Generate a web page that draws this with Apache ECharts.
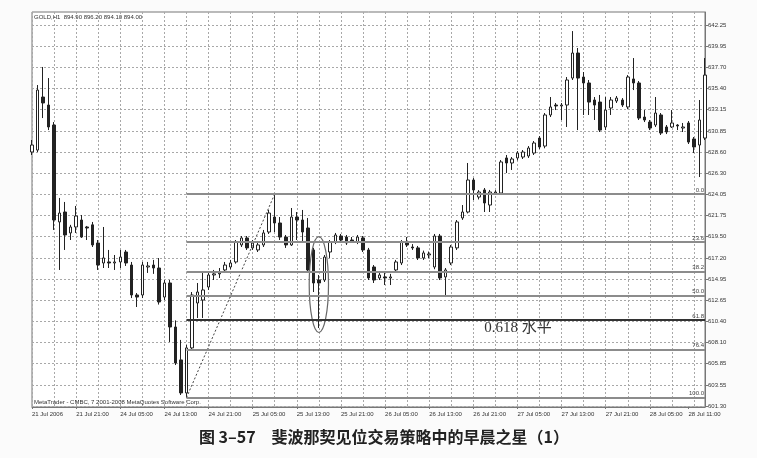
<!DOCTYPE html>
<html><head><meta charset="utf-8">
<script src="https://cdn.jsdelivr.net/npm/echarts@6/dist/echarts.min.js"></script>
<style>html,body{margin:0;padding:0;background:#fbfbfb}#c{width:757px;height:458px}</style>
</head><body><div id="c"></div>
<script>
// ---- data ----
const opens = [628.60,628.81,634.51,633.65,631.50,621.08,622.15,619.90,620.54,621.29,620.54,620.77,618.82,616.67,616.78,616.67,616.78,617.85,616.45,613.23,
613.23,616.24,616.45,616.13,613.01,614.52,609.79,606.25,602.70,607.54,612.37,612.69,614.09,615.38,615.50,615.92,616.24,616.78,618.61,619.36,
618.29,618.07,618.61,620.00,621.61,620.97,619.46,618.61,621.61,621.29,620.43,618.07,614.84,614.84,617.85,618.93,619.57,619.46,619.14,618.93,
619.36,618.07,616.24,615.06,615.17,615.06,615.92,616.67,618.93,618.39,618.29,617.21,617.53,616.24,619.57,615.17,616.67,618.29,621.51,622.15,
625.59,623.76,624.52,622.90,624.19,624.19,627.96,627.42,627.96,628.06,628.17,628.49,630.10,629.24,632.58,633.65,633.55,633.65,636.55,639.24,
636.66,636.02,634.19,633.97,631.29,633.33,634.08,634.19,633.44,636.45,636.02,632.36,631.82,631.50,632.58,631.29,631.29,631.50,631.18,631.72,
630.00,629.35,630.10];
const closes = [629.35,635.26,633.87,631.29,621.29,622.04,619.68,620.54,621.72,619.46,620.43,618.61,616.45,617.21,616.67,616.78,617.31,616.67,613.23,613.01,
616.45,616.35,616.13,612.48,614.52,609.79,605.92,602.70,607.54,613.23,613.55,613.77,615.38,615.50,615.60,616.45,616.67,618.93,619.36,618.29,
618.82,618.61,619.90,622.04,620.97,619.46,618.61,621.61,621.29,620.00,615.92,614.52,614.52,617.31,618.93,619.68,619.14,618.82,619.04,619.46,
618.07,615.06,614.84,615.38,615.06,615.17,616.78,618.93,618.61,618.29,617.21,617.75,617.64,619.57,615.06,615.92,618.39,621.08,622.15,625.59,
624.52,624.30,623.12,624.30,624.30,627.53,627.42,627.85,628.49,628.60,629.03,629.57,629.14,632.58,633.44,633.55,633.65,636.34,639.24,636.55,
636.02,633.97,633.65,630.96,633.11,634.19,634.40,633.65,636.66,636.02,632.25,632.04,631.18,632.79,630.64,630.75,631.72,631.40,631.29,629.67,
629.14,632.04,636.87];
const lows = [628.28,628.60,632.25,630.96,620.22,615.92,618.07,619.14,619.90,619.36,619.14,618.39,615.92,616.13,616.13,615.92,616.13,616.35,612.90,611.94,
612.90,615.60,615.50,612.20,612.69,608.18,605.70,602.48,602.19,607.30,610.76,610.76,613.77,614.84,615.06,615.70,616.00,616.60,618.39,618.07,
618.07,617.85,618.39,619.79,620.00,619.14,618.29,618.50,619.14,618.93,615.70,613.55,609.68,614.63,617.21,618.70,618.93,618.61,618.82,618.70,
617.85,614.84,614.52,614.84,614.30,614.30,615.60,616.45,618.39,618.07,616.99,617.00,617.20,616.00,614.84,613.01,616.45,618.07,621.30,622.00,
623.44,623.50,622.15,622.15,624.00,624.00,626.34,626.67,627.70,627.85,627.96,628.28,628.92,629.00,632.36,633.11,632.04,631.29,636.34,630.96,
632.58,632.58,632.04,630.75,630.96,632.58,633.87,633.44,633.20,635.26,632.04,631.82,630.96,631.29,630.43,630.53,631.18,630.96,630.75,629.46,
628.49,625.91,629.89];
const highs = [629.89,635.80,637.74,636.55,631.82,623.66,623.23,620.77,622.80,621.83,620.65,621.08,619.14,620.54,618.07,617.53,618.07,618.07,616.78,613.44,
616.78,616.78,617.00,617.20,614.84,614.84,610.50,608.40,607.86,613.55,614.52,615.60,615.70,615.92,616.13,616.78,617.00,619.14,619.57,619.57,
619.14,618.82,620.22,622.37,624.09,621.61,619.68,622.58,622.15,622.37,621.51,618.29,615.38,617.53,619.14,619.90,619.79,619.68,619.46,619.68,
619.57,618.29,616.45,615.60,615.60,615.50,617.00,619.14,619.46,618.70,618.50,618.00,617.90,619.79,619.79,616.13,618.61,621.29,622.90,627.42,
625.80,624.50,624.73,624.52,624.50,627.74,628.28,628.06,628.70,628.81,629.24,629.78,630.32,632.79,634.51,633.87,633.87,636.66,641.60,639.78,
637.20,636.34,634.51,634.73,634.51,634.51,634.62,634.40,636.87,638.70,636.23,633.11,632.04,634.51,632.79,631.50,633.11,631.60,631.72,631.93,
630.21,634.19,638.70];
const yTickValues = [601.30,603.55,605.85,608.10,610.40,612.65,614.95,617.20,619.50,621.75,624.05,626.30,628.60,630.85,633.15,635.40,637.70,639.95,642.25];
const xTickLabels = [[0,'21 Jul 2006'],[8,'21 Jul 21:00'],[16,'24 Jul 05:00'],[24,'24 Jul 13:00'],[32,'24 Jul 21:00'],[40,'25 Jul 05:00'],
[48,'25 Jul 13:00'],[56,'25 Jul 21:00'],[64,'26 Jul 05:00'],[72,'26 Jul 13:00'],[80,'26 Jul 21:00'],[88,'27 Jul 05:00'],[96,'27 Jul 13:00'],
[104,'27 Jul 21:00'],[112,'28 Jul 05:00'],[119,'28 Jul 11:00']];
const fibRatios = [0.0, 23.6, 38.2, 50.0, 61.8, 76.4, 100.0];
const swingLowIndex = 28;
const swingHighIndex = 44;
const starIndex = 52;          // morning star circled in the picture
const starRange = [619.5, 609.2]; // vertical span of the circle
const noteIndex = 82;          // where the "0.618 水平" note starts
const headerText = 'GOLD,H1  894.90 896.20 894.10 894.00';
const footerText = 'MetaTrader - CMBC, 7 2001-2008 MetaQuotes Software Corp.';
const captionText = '图 3–57　斐波那契见位交易策略中的早晨之星（1）';

// ---- categories (hourly bars, weekend skipped) ----
const mon = ['Jan','Feb','Mar','Apr','May','Jun','Jul','Aug','Sep','Oct','Nov','Dec'];
const categories = [];
{
  let d = new Date(2006, 6, 21, 13);
  for (let i = 0; i < opens.length; i++) {
    categories.push(d.getDate() + ' ' + mon[d.getMonth()] + ' ' + String(d.getHours()).padStart(2,'0') + ':00');
    d = new Date(d.getTime() + 3600000);
    while (d.getDay() === 6 || d.getDay() === 0) d = new Date(d.getTime() + 3600000);
  }
}
const ohlc = opens.map((o, i) => [o, closes[i], lows[i], highs[i]]);
const labelMap = {};
xTickLabels.forEach(([i, t]) => labelMap[i] = t);
const hi = highs[swingHighIndex], lo = lows[swingLowIndex];
const fibLevel = r => hi - (hi - lo) * r / 100;
const lastIndex = opens.length - 1;

const small = {fontFamily: 'Liberation Sans', fontSize: 6, color: '#333'};

const chart = echarts.init(document.getElementById('c'));
chart.setOption({
  animation: false,
  backgroundColor: '#fbfbfb',
  grid: {left: 32, right: 52, top: 12, bottom: 51, show: true, backgroundColor: '#ffffff', borderColor: '#777', borderWidth: 1},
  xAxis: {
    type: 'category', data: categories, boundaryGap: false,
    axisLine: {show: true, lineStyle: {color: '#777'}},
    axisTick: {show: true, length: 2, interval: (i) => labelMap[i] !== undefined, lineStyle: {color: '#777'}},
    axisLabel: Object.assign({interval: (i) => labelMap[i] !== undefined, formatter: (v, i) => labelMap[i] || '', align: 'left', margin: 4}, small),
    splitLine: {show: true, interval: (i) => i % 4 === 0, lineStyle: {color: '#a8a8a8', type: [2, 2], width: 1}}
  },
  yAxis: {
    type: 'value', position: 'right', scale: true, min: 601.19, max: 643.65,
    axisLine: {show: true, lineStyle: {color: '#777'}},
    axisTick: {show: true, length: 3, customValues: yTickValues, lineStyle: {color: '#777'}},
    axisLabel: Object.assign({customValues: yTickValues, formatter: v => v.toFixed(2), margin: 3}, small),
    splitLine: {show: true, lineStyle: {color: '#a8a8a8', type: [2, 2], width: 1}}
  },
  series: [
    {
      type: 'candlestick', data: ohlc, barWidth: 3,
      itemStyle: {color: '#ffffff', color0: '#222', borderColor: '#222', borderColor0: '#222', borderWidth: 1},
      markLine: {
        symbol: 'none', silent: true, animation: false,
        data: fibRatios.map(r => [
          {coord: [swingLowIndex, fibLevel(r)],
           lineStyle: {color: r === 61.8 ? '#333' : '#8c8c8c', width: 2, type: 'solid'},
           label: {show: true, position: 'insideEndTop', formatter: r.toFixed(1), distance: 1, fontFamily: 'Liberation Sans', fontSize: 6, color: '#444'}},
          {coord: [lastIndex, fibLevel(r)]}
        ])
      }
    },
    {
      type: 'line', data: [[swingLowIndex, lo], [swingHighIndex, hi]], symbol: 'none',
      lineStyle: {color: '#444', width: 1, type: [2, 2]}, silent: true, z: 3
    },
    {
      type: 'custom', data: [[starIndex, starRange[0], starRange[1]]], silent: true, z: 4,
      renderItem: (params, api) => {
        const a = api.coord([api.value(0), api.value(1)]);
        const b = api.coord([api.value(0), api.value(2)]);
        const w = api.size([1, 0])[0];
        return {type: 'ellipse', shape: {cx: a[0], cy: (a[1] + b[1]) / 2, rx: w * 1.75, ry: (b[1] - a[1]) / 2},
                style: {fill: 'none', stroke: '#666', lineWidth: 1.2}};
      }
    }
  ]
});
const p = chart.convertToPixel({xAxisIndex: 0, yAxisIndex: 0}, [noteIndex, fibLevel(61.8)]);
chart.setOption({
  graphic: [
    {type: 'text', x: 34, y: 14, style: {text: headerText, font: '6px "Liberation Sans"', fill: '#333'}},
    {type: 'text', x: 34, y: 399, style: {text: footerText, font: '6px "Liberation Sans"', fill: '#333'}},
    {type: 'text', x: p[0], y: p[1] + 1, style: {text: '0.618 水平', font: '15px "Liberation Serif", "Noto Sans CJK SC"', fill: '#333'}},
    {type: 'text', x: 384, y: 437, style: {text: captionText, font: 'bold 16px "Noto Sans CJK SC"', fill: '#222', align: 'center', verticalAlign: 'middle'}}
  ]
});
</script></body></html>
